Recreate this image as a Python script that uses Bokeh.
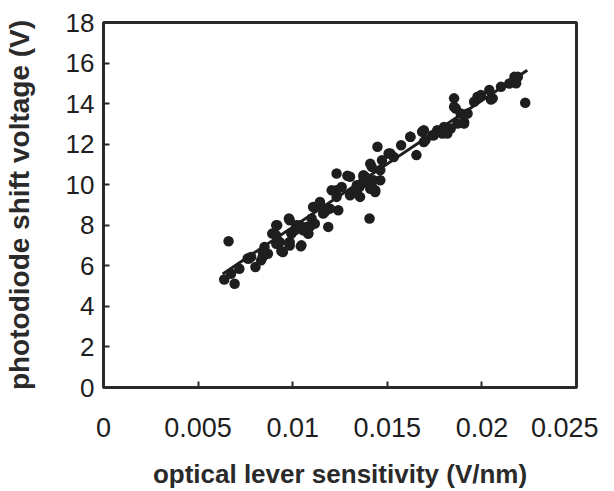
from bokeh.plotting import figure
from bokeh.models import FixedTicker
from bokeh.embed import file_html
from bokeh.resources import INLINE

# measured data (optical lever sensitivity V/nm, photodiode shift voltage V)
sens = [0.00638, 0.00693, 0.00661, 0.00803, 0.00768, 0.00842, 0.00851, 0.00892, 0.00913, 0.00940,
        0.00931, 0.00980, 0.00980, 0.01020, 0.01043, 0.01082, 0.01073, 0.01108, 0.01144, 0.01161,
        0.01188, 0.01232, 0.01289, 0.01232, 0.01241, 0.01312, 0.01353, 0.01374, 0.01406, 0.01436,
        0.01418, 0.01448, 0.01472, 0.01516, 0.01573, 0.01622, 0.01654, 0.01693, 0.01693, 0.01764,
        0.01817, 0.01853, 0.01862, 0.01906, 0.01924, 0.01977, 0.02039, 0.02048, 0.02101, 0.02181,
        0.02172, 0.02229,
        0.00674, 0.00718, 0.00762, 0.00780, 0.00833, 0.00842, 0.00869, 0.00913, 0.00948, 0.00904,
        0.00918, 0.00984, 0.00993, 0.01046, 0.01011, 0.01037, 0.01082, 0.01090, 0.01117,
        0.00913, 0.00984, 0.01020, 0.01055, 0.01080, 0.01100, 0.01117, 0.01144, 0.01170, 0.01197,
        0.01206, 0.01232, 0.01259, 0.01303, 0.01339, 0.01365, 0.01383, 0.01410, 0.01427, 0.00984,
        0.01303, 0.01374, 0.01410, 0.01418, 0.01436, 0.01463, 0.01463, 0.01507, 0.01534, 0.01622,
        0.01684, 0.01702, 0.01746, 0.01791, 0.01835, 0.01871, 0.01339, 0.01392, 0.01356,
        0.01853, 0.01888, 0.01906, 0.01959, 0.01995, 0.02057, 0.02145, 0.02190, 0.01764, 0.01800,
        0.01738]
shift = [5.33, 5.12, 7.21, 5.94, 6.36, 6.44, 6.93, 7.59, 8.00, 6.73,
         7.18, 7.13, 8.33, 7.92, 6.96, 7.59, 7.92, 8.90, 9.15, 8.58,
         7.92, 10.55, 10.44, 9.73, 8.74, 9.56, 9.89, 10.39, 8.33, 9.73,
         10.88, 11.87, 11.21, 11.54, 11.95, 12.36, 11.46, 12.69, 12.11, 12.61,
         12.53, 14.26, 13.76, 13.02, 13.51, 14.34, 14.67, 14.20, 14.83, 15.00,
         15.32, 14.04,
         5.61, 5.86, 6.36, 6.44, 6.27, 6.68, 6.60, 7.09, 6.68, 7.59,
         8.00, 7.18, 7.59, 7.01, 7.75, 8.00, 7.59, 7.92, 8.08,
         7.50, 8.25, 8.00, 7.75, 7.92, 8.33, 8.90, 9.07, 8.66, 8.82,
         9.73, 9.40, 9.89, 9.48, 9.73, 10.06, 10.39, 9.80, 10.22, 7.00,
         10.39, 10.47, 11.04, 9.89, 9.64, 10.72, 10.22, 11.54, 11.37, 12.36,
         12.61, 12.20, 12.44, 12.52, 12.77, 13.02, 9.98, 10.14, 9.40,
         13.84, 13.51, 13.10, 14.09, 14.42, 14.26, 14.99, 15.32, 12.69, 12.85,
         12.44]

# linear fit endpoints as drawn
fit_x = [0.0063, 0.0224]
fit_y = [5.6, 15.65]

x_ticks = [0, 0.005, 0.01, 0.015, 0.02, 0.025]
x_tick_labels = ["0", "0.005", "0.01", "0.015", "0.02", "0.025"]
y_ticks = [0, 2, 4, 6, 8, 10, 12, 14, 16, 18]

INK = "#1e1e1e"
FONT = "Liberation Sans"

p = figure(width=598, height=491, x_range=(0, 0.025), y_range=(0, 18),
           output_backend="svg", toolbar_location=None,
           min_border_left=97, min_border_right=22, min_border_top=22, min_border_bottom=100)

p.line(fit_x, fit_y, line_color=INK, line_width=3)
p.scatter(sens, shift, size=10.5, fill_color=INK, line_color=None)

p.xgrid.visible = False
p.ygrid.visible = False
p.outline_line_color = "#2a2a2a"
p.outline_line_width = 3
p.background_fill_color = "white"
p.border_fill_color = "white"

p.xaxis.ticker = FixedTicker(ticks=x_ticks)
p.xaxis.major_label_overrides = {t: l for t, l in zip(x_ticks, x_tick_labels)}
p.yaxis.ticker = FixedTicker(ticks=y_ticks)

for ax in (p.xaxis[0], p.yaxis[0]):
    ax.axis_line_color = None
    ax.major_tick_in = 6
    ax.major_tick_out = 0
    ax.major_tick_line_color = "#2a2a2a"
    ax.major_tick_line_width = 2
    ax.minor_tick_line_color = None
    ax.major_label_text_font = FONT
    ax.major_label_text_color = INK
    ax.axis_label_text_font = FONT
    ax.axis_label_text_font_style = "bold"
    ax.axis_label_text_color = "#2a2a2a"

p.xaxis.major_label_text_font_size = "27px"
p.yaxis.major_label_text_font_size = "26px"
p.xaxis.axis_label_text_font_size = "26px"
p.yaxis.axis_label_text_font_size = "28px"

p.xaxis.axis_label = "optical lever sensitivity (V/nm)"
p.yaxis.axis_label = "photodiode shift voltage (V)"
p.xaxis.major_label_standoff = 30
p.xaxis.axis_label_standoff = 19
p.yaxis.major_label_standoff = 9
p.yaxis.axis_label_standoff = 28

open("out.html", "w").write(file_html(p, INLINE))
